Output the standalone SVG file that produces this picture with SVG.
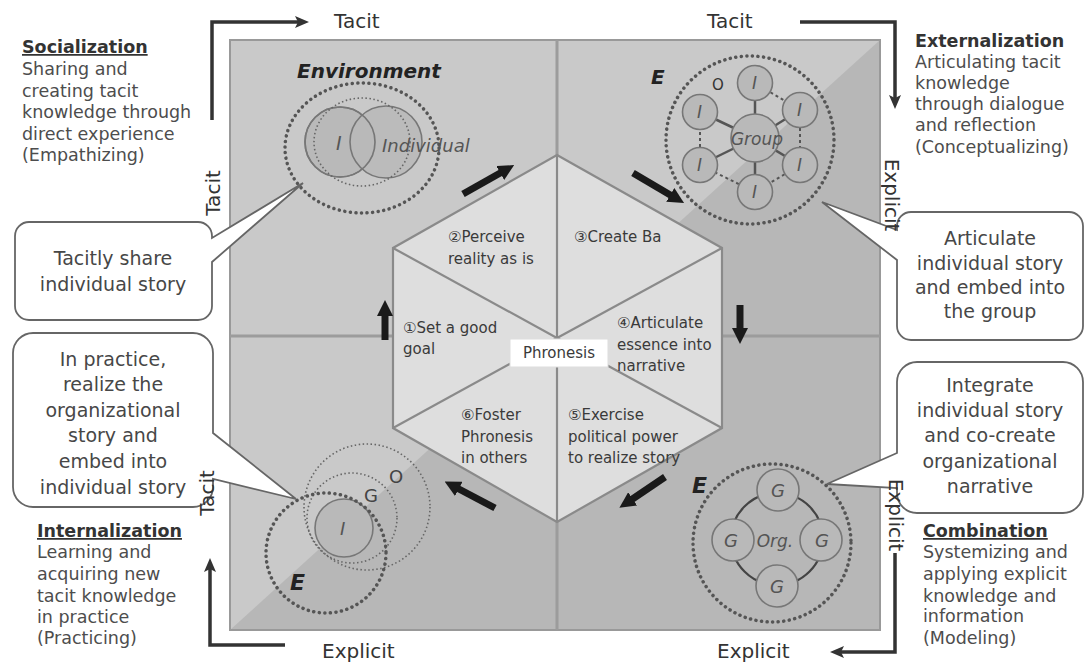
<svg xmlns="http://www.w3.org/2000/svg" width="1086" height="662" viewBox="0 0 1086 662">
<defs>
<style>
text{font-family:"DejaVu Sans","Liberation Sans",sans-serif}
.side{font-size:17.5px;fill:#4d4d4d}
.title{font-weight:bold;fill:#333}
.ul{text-decoration:underline}
.call{font-size:19px;fill:#474747;text-anchor:middle}
.hex{font-size:15px;fill:#3a3a3a}
.axis{font-size:20px;fill:#333}
.it{font-style:italic;fill:#555}
.bi{font-style:italic;font-weight:bold;fill:#222}
.bigdot{fill:none;stroke:#555;stroke-width:3.5;stroke-dasharray:0.1 5.5;stroke-linecap:round}
.finedot{fill:none;stroke:#666;stroke-width:1.6;stroke-dasharray:1.5 2.5}
.node{fill:#b9b9b9;stroke:#777;stroke-width:1.6}
.link{stroke:#555;stroke-width:2.5}
.dlink{stroke:#555;stroke-width:2;stroke-dasharray:3 3}
.outer{fill:none;stroke:#333;stroke-width:3.5}
.inner{fill:none;stroke:#1a1a1a;stroke-width:7}
.callout{fill:#fff;stroke:#666;stroke-width:1.8}
</style>
<marker id="oh" markerUnits="userSpaceOnUse" markerWidth="14" markerHeight="12" viewBox="0 0 14 12" refX="3" refY="6" orient="auto">
<path d="M0,0 L14,6 L0,12 L3,6 Z" fill="#333"/>
</marker>
<marker id="ih" markerUnits="userSpaceOnUse" markerWidth="16" markerHeight="16" viewBox="0 0 16 16" refX="2" refY="8" orient="auto">
<path d="M0,0 L16,8 L0,16 Z" fill="#1a1a1a"/>
</marker>
</defs>
<rect width="1086" height="662" fill="#fff"/>

<g id="square">
<rect x="230" y="40" width="650" height="590" fill="#c9c9c9" stroke="#999" stroke-width="2"/>
<polygon points="880,40 880,630 230,630" fill="#b7b7b7"/>
<rect x="230" y="40" width="650" height="590" fill="none" stroke="#999" stroke-width="2"/>
<line x1="230" y1="336" x2="880" y2="336" stroke="#9c9c9c" stroke-width="3"/>
<line x1="557" y1="40" x2="557" y2="630" stroke="#9c9c9c" stroke-width="3"/>
</g>

<g id="socialization-figure">
<ellipse cx="362" cy="148" rx="77" ry="65" class="bigdot"/>
<circle cx="340" cy="142" r="35" class="node"/>
<circle cx="386" cy="142" r="36" class="node" fill-opacity="0.85"/>
<circle cx="340" cy="142" r="35" fill="none" stroke="#777" stroke-width="1.6"/>
<ellipse cx="362" cy="142" rx="48" ry="44" class="finedot"/>
<text x="297" y="78" font-size="20" class="bi">Environment</text>
<text x="336" y="150" font-size="19" class="it">I</text>
<text x="382" y="152" font-size="18" class="it">Individual</text>
</g>

<g id="externalization-figure">
<circle cx="750" cy="140" r="84" class="bigdot"/>
<g>
<line x1="755" y1="138" x2="755" y2="83" class="link"/>
<line x1="755" y1="138" x2="755" y2="192" class="link"/>
<line x1="755" y1="138" x2="700" y2="112" class="link"/>
<line x1="755" y1="138" x2="700" y2="165" class="link"/>
<line x1="755" y1="138" x2="800" y2="110" class="link"/>
<line x1="755" y1="138" x2="800" y2="165" class="link"/>
<line x1="755" y1="83" x2="800" y2="110" class="dlink"/>
<line x1="800" y1="110" x2="800" y2="165" class="dlink"/>
<line x1="800" y1="165" x2="755" y2="192" class="dlink"/>
<line x1="755" y1="192" x2="700" y2="165" class="dlink"/>
<line x1="700" y1="165" x2="700" y2="112" class="dlink"/>
</g>
<circle cx="755" cy="138" r="24" class="node"/>
<circle cx="755" cy="83" r="17.5" class="node"/>
<circle cx="800" cy="110" r="17.5" class="node"/>
<circle cx="800" cy="165" r="17.5" class="node"/>
<circle cx="755" cy="192" r="17.5" class="node"/>
<circle cx="700" cy="165" r="17.5" class="node"/>
<circle cx="700" cy="112" r="17.5" class="node"/>
<text x="752" y="89" font-size="17" class="it">I</text>
<text x="797" y="116" font-size="17" class="it">I</text>
<text x="797" y="171" font-size="17" class="it">I</text>
<text x="752" y="198" font-size="17" class="it">I</text>
<text x="697" y="171" font-size="17" class="it">I</text>
<text x="697" y="118" font-size="17" class="it">I</text>
<text x="757" y="145" font-size="17" class="it" text-anchor="middle">Group</text>
<text x="651" y="84" font-size="20" class="bi">E</text>
<text x="712" y="90" font-size="15" fill="#333">O</text>
</g>

<g id="internalization-figure">
<circle cx="367" cy="507" r="63" class="finedot"/>
<circle cx="352" cy="518" r="45" class="finedot"/>
<circle cx="344" cy="528" r="29" class="node"/>
<circle cx="326" cy="553" r="60" class="bigdot"/>
<text x="340" y="535" font-size="18" class="it">I</text>
<text x="364" y="502" font-size="18" fill="#444">G</text>
<text x="389" y="483" font-size="18" fill="#444">O</text>
<text x="290" y="590" font-size="22" class="bi">E</text>
</g>

<g id="combination-figure">
<circle cx="772" cy="543" r="79" class="bigdot"/>
<circle cx="777" cy="539" r="46" fill="none" stroke="#444" stroke-width="2.2"/>
<circle cx="778" cy="490" r="21" class="node"/>
<circle cx="733" cy="540" r="21" class="node"/>
<circle cx="821" cy="540" r="21" class="node"/>
<circle cx="777" cy="586" r="21" class="node"/>
<text x="778" y="497" font-size="18" class="it" text-anchor="middle">G</text>
<text x="731" y="547" font-size="18" class="it" text-anchor="middle">G</text>
<text x="822" y="547" font-size="18" class="it" text-anchor="middle">G</text>
<text x="777" y="593" font-size="18" class="it" text-anchor="middle">G</text>
<text x="775" y="547" font-size="17" class="it" text-anchor="middle">Org.</text>
<text x="692" y="493" font-size="22" class="bi">E</text>
</g>

<g id="hexagon">
<polygon points="557,155 722,248 722,428 557,522 393,428 393,248" fill="#dedede" stroke="#8a8a8a" stroke-width="2.2"/>
<g stroke="#8a8a8a" stroke-width="2.2">
<line x1="557" y1="338" x2="557" y2="155"/>
<line x1="557" y1="338" x2="722" y2="248"/>
<line x1="557" y1="338" x2="722" y2="428"/>
<line x1="557" y1="338" x2="557" y2="522"/>
<line x1="557" y1="338" x2="393" y2="428"/>
<line x1="557" y1="338" x2="393" y2="248"/>
</g>
<text class="hex" x="448" y="242">②Perceive</text>
<text class="hex" x="448" y="264">reality as is</text>
<text class="hex" x="574" y="242">③Create Ba</text>
<text class="hex" x="403" y="333">①Set a good</text>
<text class="hex" x="403" y="354">goal</text>
<text class="hex" x="617" y="328">④Articulate</text>
<text class="hex" x="617" y="350">essence into</text>
<text class="hex" x="617" y="371">narrative</text>
<text class="hex" x="461" y="420">⑥Foster</text>
<text class="hex" x="461" y="442">Phronesis</text>
<text class="hex" x="461" y="463">in others</text>
<text class="hex" x="568" y="420">⑤Exercise</text>
<text class="hex" x="568" y="442">political power</text>
<text class="hex" x="568" y="463">to realize story</text>
</g>

<g id="phronesis">
<rect x="510" y="339" width="98" height="28" fill="#fff" stroke="#ddd" stroke-width="1"/>
<text class="hex" x="559" y="358" text-anchor="middle" fill="#444">Phronesis</text>
</g>

<g id="connectors">
<path class="outer" d="M212,120 V22 H298" marker-end="url(#oh)"/>
<path class="outer" d="M800,22 H895 V98" marker-end="url(#oh)"/>
<path class="outer" d="M895,553 V652 H841" marker-end="url(#oh)"/>
<path class="outer" d="M285,645 H210 V569" marker-end="url(#oh)"/>
<line class="inner" x1="463" y1="194" x2="502" y2="172" marker-end="url(#ih)"/>
<line class="inner" x1="633" y1="173" x2="672" y2="196" marker-end="url(#ih)"/>
<line class="inner" x1="740" y1="305" x2="740" y2="330" marker-end="url(#ih)"/>
<line class="inner" x1="385" y1="340" x2="385" y2="314" marker-end="url(#ih)"/>
<line class="inner" x1="665" y1="477" x2="631" y2="500" marker-end="url(#ih)"/>
<line class="inner" x1="495" y1="508" x2="457" y2="488" marker-end="url(#ih)"/>
</g>

<g id="callout-socialization">
<path class="callout" d="M29,222 H198 A14,14 0 0 1 212,236 V238 L303,183 L212,262 V306 A14,14 0 0 1 198,320 H29 A14,14 0 0 1 15,306 V236 A14,14 0 0 1 29,222 Z"/>
<text class="call" x="113" y="265">Tacitly share</text>
<text class="call" x="113" y="291">individual story</text>
</g>

<g id="callout-internalization">
<path class="callout" d="M33,333 H193 A20,20 0 0 1 213,353 V433 L296,499 L213,479 V487 A20,20 0 0 1 193,507 H33 A20,20 0 0 1 13,487 V353 A20,20 0 0 1 33,333 Z"/>
<text class="call" x="113" y="366">In practice,</text>
<text class="call" x="113" y="391">realize the</text>
<text class="call" x="113" y="417">organizational</text>
<text class="call" x="113" y="442">story and</text>
<text class="call" x="113" y="468">embed into</text>
<text class="call" x="113" y="494">individual story</text>
</g>

<g id="callout-externalization">
<path class="callout" d="M911,212 H1069 A14,14 0 0 1 1083,226 V326 A14,14 0 0 1 1069,340 H911 A14,14 0 0 1 897,326 V260 L822,202 L897,230 V226 A14,14 0 0 1 911,212 Z"/>
<text class="call" x="990" y="245">Articulate</text>
<text class="call" x="990" y="270">individual story</text>
<text class="call" x="990" y="294">and embed into</text>
<text class="call" x="990" y="318">the group</text>
</g>

<g id="callout-combination">
<path class="callout" d="M917,362 H1063 A20,20 0 0 1 1083,382 V493 A20,20 0 0 1 1063,513 H917 A20,20 0 0 1 897,493 V488 L827,484 L897,453 V382 A20,20 0 0 1 917,362 Z"/>
<text class="call" x="990" y="392">Integrate</text>
<text class="call" x="990" y="417">individual story</text>
<text class="call" x="990" y="442">and co-create</text>
<text class="call" x="990" y="468">organizational</text>
<text class="call" x="990" y="493">narrative</text>
</g>

<g id="axis-labels">
<text class="axis" x="334" y="28">Tacit</text>
<text class="axis" x="707" y="28">Tacit</text>
<text class="axis" x="322" y="658">Explicit</text>
<text class="axis" x="717" y="658">Explicit</text>
<text class="axis" transform="translate(220,193) rotate(-90)" text-anchor="middle">Tacit</text>
<text class="axis" transform="translate(214,493) rotate(-90)" text-anchor="middle">Tacit</text>
<text class="axis" transform="translate(885,195) rotate(90)" text-anchor="middle">Explicit</text>
<text class="axis" transform="translate(889,515) rotate(90)" text-anchor="middle">Explicit</text>
</g>

<g id="socialization-text">
<text class="side title ul" x="22" y="53">Socialization</text>
<text class="side" x="22" y="75">Sharing and</text>
<text class="side" x="22" y="97">creating tacit</text>
<text class="side" x="22" y="118">knowledge through</text>
<text class="side" x="22" y="140">direct experience</text>
<text class="side" x="22" y="161">(Empathizing)</text>
</g>

<g id="externalization-text">
<text class="side title" x="915" y="47">Externalization</text>
<text class="side" x="915" y="68">Articulating tacit</text>
<text class="side" x="915" y="89">knowledge</text>
<text class="side" x="915" y="110">through dialogue</text>
<text class="side" x="915" y="131">and reflection</text>
<text class="side" x="915" y="153">(Conceptualizing)</text>
</g>

<g id="internalization-text">
<text class="side title ul" x="37" y="537">Internalization</text>
<text class="side" x="37" y="558">Learning and</text>
<text class="side" x="37" y="580">acquiring new</text>
<text class="side" x="37" y="602">tacit knowledge</text>
<text class="side" x="37" y="623">in practice</text>
<text class="side" x="37" y="644">(Practicing)</text>
</g>

<g id="combination-text">
<text class="side title ul" x="923" y="537">Combination</text>
<text class="side" x="923" y="558">Systemizing and</text>
<text class="side" x="923" y="580">applying explicit</text>
<text class="side" x="923" y="602">knowledge and</text>
<text class="side" x="923" y="622">information</text>
<text class="side" x="923" y="644">(Modeling)</text>
</g>
</svg>
